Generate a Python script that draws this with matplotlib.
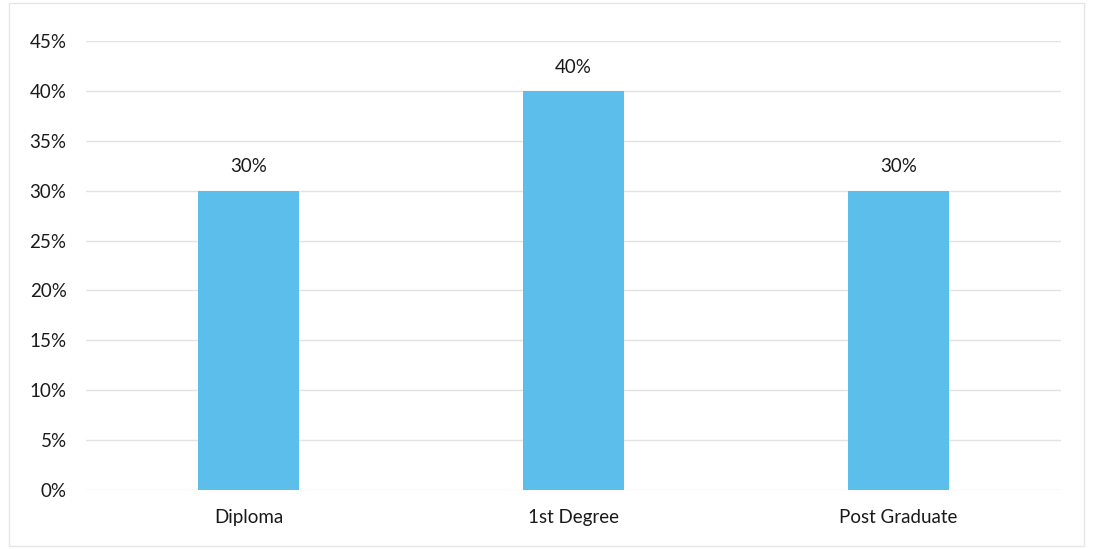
import matplotlib
matplotlib.use("Agg")
import matplotlib.pyplot as plt
from matplotlib.ticker import PercentFormatter
from matplotlib.patches import Rectangle

categories = ["Diploma", "1st Degree", "Post Graduate"]
values = [0.30, 0.40, 0.30]
value_labels = ["30%", "40%", "30%"]
yticks = [0, 0.05, 0.10, 0.15, 0.20, 0.25, 0.30, 0.35, 0.40, 0.45]

plt.rcParams['font.family'] = ['Lato', 'DejaVu Sans']

fig = plt.figure(figsize=(10.93, 5.49), dpi=100)
ax = fig.add_axes([0.0787, 0.1075, 0.892, 0.8178])

x = list(range(len(categories)))
bars = ax.bar(x, values, width=0.31, color="#5CBEEA", zorder=3)
for xi, v, lab in zip(x, values, value_labels):
    ax.annotate(lab, (xi, v), xytext=(0, 11), textcoords="offset points",
                ha="center", va="bottom", fontsize=13.5, color="#1a1a1a")

ax.set_xlim(-0.5, 2.5)
ax.set_ylim(0, 0.45)
ax.set_yticks(yticks)
ax.yaxis.set_major_formatter(PercentFormatter(1.0, decimals=0))
ax.set_xticks(x)
ax.set_xticklabels(categories)
ax.tick_params(axis="both", length=0, labelsize=13.5, colors="#1a1a1a")
ax.tick_params(axis="y", pad=14)
ax.tick_params(axis="x", pad=14)
ax.grid(axis="y", color="#e3e3e3", linewidth=1, zorder=0)
for s in ax.spines.values():
    s.set_visible(False)

fig.patches.append(Rectangle((0.008, 0.005), 0.984, 0.99, transform=fig.transFigure,
                             fill=False, edgecolor="#e6e6e6", linewidth=1))

fig.savefig("out.png", dpi=100, facecolor="white")
